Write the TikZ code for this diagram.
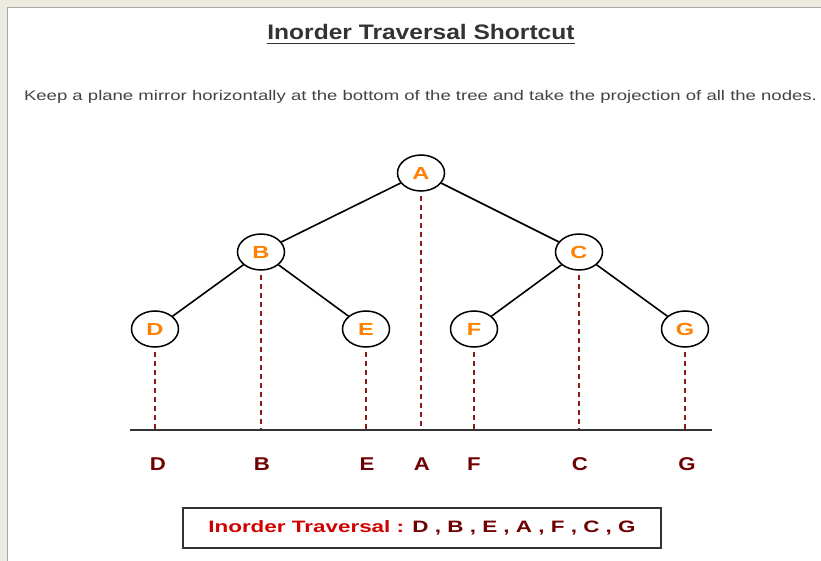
\documentclass[tikz,border=0pt]{standalone}
\usepackage{fontspec}
\setmainfont{Liberation Sans}
\usetikzlibrary{shapes.geometric}
\definecolor{beige}{HTML}{EDEBE0}
\definecolor{framegray}{HTML}{A8A8A8}
\definecolor{titlegray}{HTML}{333333}
\definecolor{subgray}{HTML}{444444}
\definecolor{letterorange}{HTML}{FF8000}
\definecolor{projred}{HTML}{8B1A1A}
\definecolor{labelred}{HTML}{6E0000}
\definecolor{boxred}{HTML}{D00000}
\newcommand{\hs}[2]{\scalebox{#1}[1]{#2}}
\tikzset{
  treenode/.style={ellipse, draw=black, line width=1.5pt, fill=white,
    minimum width=47pt, minimum height=36pt, inner sep=0pt,
    text=letterorange, font=\fontsize{17.5}{17.5}\selectfont\bfseries},
  edge/.style={draw=black, line width=1.6pt},
  proj/.style={draw=projred, line width=2.6pt, dash pattern=on 5pt off 4pt},
  projlabel/.style={text=labelred, font=\fontsize{18.5}{18.5}\selectfont\bfseries, inner sep=0pt}
}
\begin{document}
\begin{tikzpicture}[x=1pt,y=-1pt]
\useasboundingbox (0,0) rectangle (821,561);
\fill[beige] (0,0) rectangle (821,561);
\fill[white] (8,8) rectangle (821,561);
\draw[framegray, line width=1.5pt] (7.5,561) -- (7.5,7.5) -- (821,7.5);

\node[text=titlegray, font=\fontsize{21}{21}\selectfont\bfseries, inner sep=0pt] (title) at (421,32) {\hs{1.17}{Inorder Traversal Shortcut}};
\draw[titlegray, line width=1.8pt] ([yshift=-3.5pt]title.south west) -- ([yshift=-3.5pt]title.south east);

\node[text=subgray, font=\fontsize{14}{14}\selectfont, inner sep=0pt] (sub) at (420.5,97) {\hs{1.325}{Keep a plane mirror horizontally at the bottom of the tree and take the projection of all the nodes.}};

\coordinate (baseL) at (130,430);
\coordinate (baseR) at (712,430);

\node[treenode] (A) at (421,173) {\hs{1.35}{A}};
\node[treenode] (B) at (261,252) {\hs{1.35}{B}};
\node[treenode] (C) at (579,252) {\hs{1.35}{C}};
\node[treenode] (D) at (155,329) {\hs{1.35}{D}};
\node[treenode] (E) at (366,329) {\hs{1.35}{E}};
\node[treenode] (F) at (474,329) {\hs{1.35}{F}};
\node[treenode] (G) at (685,329) {\hs{1.35}{G}};

\draw[edge] (A) -- (B);
\draw[edge] (A) -- (C);
\draw[edge] (B) -- (D);
\draw[edge] (B) -- (E);
\draw[edge] (C) -- (F);
\draw[edge] (C) -- (G);

\foreach \n in {A,B,C,D,E,F,G}{
  \coordinate (p\n) at (\n.south |- baseL);
  \draw[proj] ([yshift=-4pt]\n.south) -- (p\n);
}
\draw[titlegray, line width=2.2pt] (baseL) -- (baseR);

\node[projlabel] (lD) at (158,464) {\hs{1.2}{D}};
\node[projlabel] (lB) at (262,464) {\hs{1.2}{B}};
\node[projlabel] (lE) at (367,464) {\hs{1.2}{E}};
\node[projlabel] (lA) at (422,464) {\hs{1.2}{A}};
\node[projlabel] (lF) at (474,464) {\hs{1.2}{F}};
\node[projlabel] (lC) at (580,464) {\hs{1.2}{C}};
\node[projlabel] (lG) at (687,464) {\hs{1.2}{G}};

\node[draw=titlegray, line width=1.8pt, minimum width=478pt, minimum height=40pt, inner sep=0pt,
  font=\fontsize{16.5}{16.5}\selectfont\bfseries] (res) at (422,528)
  {\hs{1.36}{\textcolor{boxred}{Inorder Traversal :} \textcolor{labelred}{D , B , E , A , F , C , G}}};
\end{tikzpicture}
\end{document}
